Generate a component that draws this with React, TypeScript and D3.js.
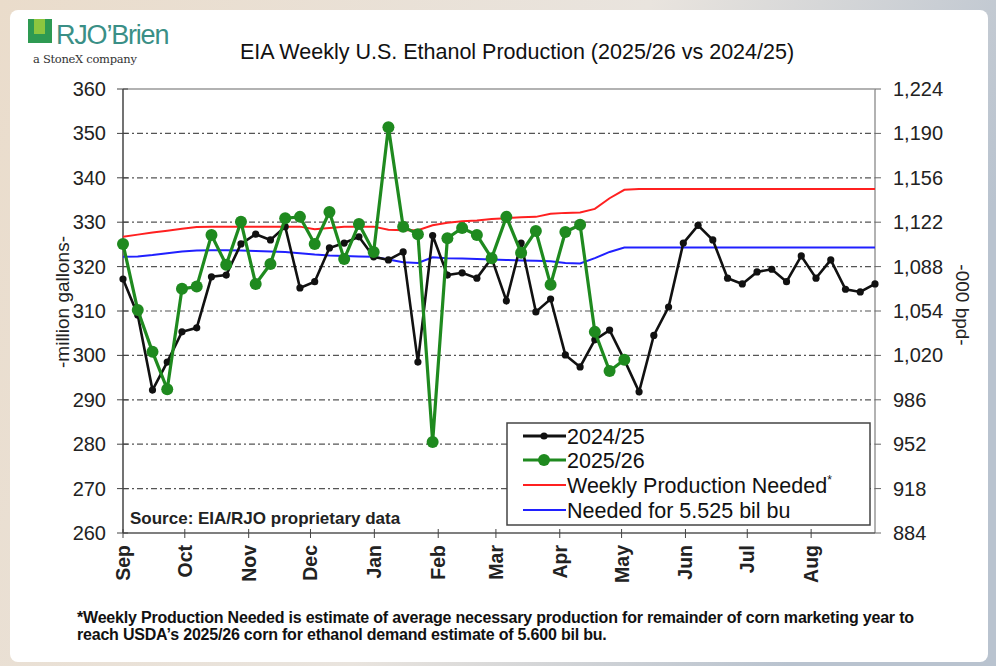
import * as d3 from "d3";

// weekly values, million gallons (Sep -> Aug)
const prior2425 = [
  317.2, 309.1, 292.2, 298.5, 305.3, 306.2, 317.7, 318.1, 325.1, 327.3, 326.0, 329.0,
  315.2, 316.6, 324.2, 325.3, 326.7, 322.2, 321.5, 323.3, 298.5, 327.0, 318.1, 318.6,
  317.4, 321.9, 312.3, 325.3, 309.8, 312.7, 300.1, 297.4, 303.5, 305.7, 299.0, 291.8,
  304.5, 310.9, 325.3, 329.3, 326.0, 317.4, 316.1, 318.8, 319.4, 316.6, 322.4, 317.4,
  321.5, 314.9, 314.3, 316.1,
];
const current2526 = [
  325.1, 310.2, 300.8, 292.4, 315.0, 315.5, 327.1, 320.4, 330.1, 316.1, 320.6, 330.9,
  331.2, 325.1, 332.3, 321.7, 329.6, 323.3, 351.4, 329.0, 327.3, 280.5, 326.4, 328.7,
  327.1, 321.9, 331.2, 323.1, 328.0, 315.9, 327.8, 329.4, 305.3, 296.5, 299.0,
];
const weeklyNeeded = [
  326.7, 327.2, 327.7, 328.1, 328.5, 328.9, 329.0, 329.0, 329.0, 329.0, 329.0, 329.0,
  329.0, 328.4, 328.7, 329.0, 329.0, 329.0, 328.3, 328.2, 328.2, 329.3, 329.9, 330.2,
  330.4, 330.7, 330.9, 331.1, 331.2, 331.9, 332.1, 332.2, 333.0, 335.4, 337.3, 337.5,
  337.5, 337.5, 337.5, 337.5, 337.5, 337.5, 337.5, 337.5, 337.5, 337.5, 337.5, 337.5,
  337.5, 337.5, 337.5, 337.5,
];
const needed5525 = [
  322.2, 322.3, 322.6, 323.0, 323.4, 323.6, 323.7, 323.7, 323.6, 323.5, 323.4, 323.3,
  323.0, 322.7, 322.5, 322.4, 322.3, 322.2, 321.6, 321.0, 320.8, 322.1, 321.9, 321.8,
  321.7, 321.6, 321.5, 321.4, 321.3, 321.2, 320.8, 320.7, 321.9, 323.3, 324.3, 324.3,
  324.3, 324.3, 324.3, 324.3, 324.3, 324.3, 324.3, 324.3, 324.3, 324.3, 324.3, 324.3,
  324.3, 324.3, 324.3, 324.3,
];

const leftTicks = [260, 270, 280, 290, 300, 310, 320, 330, 340, 350, 360];
const rightTicks = [884, 918, 952, 986, 1020, 1054, 1088, 1122, 1156, 1190, 1224];
const legendLabels = ["2024/25", "2025/26", "Weekly Production Needed", "Needed for 5.525 bil bu"];

const W = 996;
const H = 666;
const m = { left: 123, right: 875, top: 89, bottom: 533 };
const font = "'Liberation Sans', Arial, sans-serif";
const green = "#1f8a1f";

export default function App() {
  const weeks = d3.range(prior2425.length);
  const xWeek = d3.scalePoint<number>().domain(weeks).range([m.left, m.right]);
  const xTime = d3
    .scaleTime()
    .domain([new Date(2024, 8, 1), new Date(2025, 8, 1)])
    .range([m.left, m.right]);
  const y = d3.scaleLinear().domain([260, 360]).range([m.bottom, m.top]);
  const yR = d3.scaleLinear().domain([884, 1224]).range([m.bottom, m.top]);

  const lineGen = d3
    .line<number>()
    .x((_, i) => xWeek(i)!)
    .y((d) => y(d));

  const months = xTime.ticks(d3.timeMonth.every(1)!).slice(0, 12);
  const fmtMonth = d3.timeFormat("%b");
  const fmtR = d3.format(",");

  const lx = 507, ly = 423, lw = 363, lh = 102;
  const legendRows = [436, 460, 485, 510];

  return (
    <div style={{ position: "fixed", left: 0, top: 0 }}>
      <svg width={W} height={H} viewBox={`0 0 ${W} ${H}`} style={{ display: "block" }}>
        <defs>
          <linearGradient id="bg" x1="0" y1="0" x2="1" y2="0.3">
            <stop offset="0" stopColor="#eadccb" />
            <stop offset="0.6" stopColor="#e9e4de" />
            <stop offset="1" stopColor="#b9c3cf" />
          </linearGradient>
        </defs>
        <rect width={W} height={H} fill="url(#bg)" />
        <rect x={10} y={10} width={978} height={652} rx={8} fill="#fff" />

        {/* logo */}
        <rect x={28} y={19} width={24} height={24} fill="#2e9a52" />
        <rect x={34} y={19} width={11} height={15} fill="#8cc63f" />
        <text x={56} y={44} fontFamily={font} fontSize={27} fill="#3a8f86" letterSpacing={-1.2}>
          RJO’Brien
        </text>
        <text x={33} y={63} fontFamily="'DejaVu Serif', serif" fontSize={11.5} fill="#333" letterSpacing={-0.3}>
          a StoneX company
        </text>

        <text x={517} y={59} textAnchor="middle" fontFamily={font} fontSize={21.5} fill="#111">
          EIA Weekly U.S. Ethanol Production (2025/26 vs 2024/25)
        </text>

        {/* gridlines */}
        {leftTicks.slice(1, -1).map((t) => (
          <line key={t} x1={m.left} x2={m.right} y1={y(t)} y2={y(t)} stroke="#555"
            strokeWidth={1.2} strokeDasharray="6,3,2,3" />
        ))}
        {/* frame */}
        <line x1={m.left} x2={m.right} y1={m.top} y2={m.top} stroke="#999" strokeWidth={1.5} />
        <line x1={m.right} x2={m.right} y1={m.top} y2={m.bottom} stroke="#999" strokeWidth={1.5} />
        <line x1={m.left} x2={m.right} y1={m.bottom} y2={m.bottom} stroke="#555" strokeWidth={1.5} />
        <line x1={m.left} x2={m.left} y1={m.top} y2={m.bottom} stroke="#444" strokeWidth={1.5} />

        {/* left axis */}
        {leftTicks.map((t) => (
          <g key={t}>
            <line x1={m.left - 6} x2={m.left + 5} y1={y(t)} y2={y(t)} stroke="#444" />
            <text x={106} y={y(t) + 7} textAnchor="end" fontFamily={font} fontSize={20} fill="#222">
              {t}
            </text>
          </g>
        ))}
        {/* right axis */}
        {rightTicks.map((t) => (
          <g key={t}>
            <line x1={m.right} x2={m.right + 6} y1={yR(t)} y2={yR(t)} stroke="#666" />
            <text x={893} y={yR(t) + 7} fontFamily={font} fontSize={20} fill="#222">
              {fmtR(t)}
            </text>
          </g>
        ))}
        {/* month axis */}
        {months.map((d) => (
          <g key={+d}>
            <line x1={xTime(d)} x2={xTime(d)} y1={m.bottom - 4} y2={m.bottom + 5} stroke="#444" />
            <text transform={`translate(${xTime(d) + 7},${m.bottom + 12}) rotate(-90)`}
              textAnchor="end" fontFamily={font} fontSize={19.5} fontWeight="bold" fill="#222">
              {fmtMonth(d)}
            </text>
          </g>
        ))}
        <text transform="translate(69,302) rotate(-90)" textAnchor="middle"
          fontFamily={font} fontSize={19} fill="#222">
          -million  gallons-
        </text>
        <text transform="translate(956,305) rotate(90)" textAnchor="middle"
          fontFamily={font} fontSize={19} fill="#222">
          -000 bpd-
        </text>

        {/* series */}
        <path d={lineGen(weeklyNeeded)!} fill="none" stroke="#ff2020" strokeWidth={2} />
        <path d={lineGen(needed5525)!} fill="none" stroke="#2020ff" strokeWidth={2} />
        <path d={lineGen(prior2425)!} fill="none" stroke="#111" strokeWidth={2.6} />
        {prior2425.map((v, i) => (
          <circle key={i} cx={xWeek(i)} cy={y(v)} r={3.6} fill="#111" />
        ))}
        <path d={lineGen(current2526)!} fill="none" stroke={green} strokeWidth={3.2} />
        {current2526.map((v, i) => (
          <circle key={i} cx={xWeek(i)} cy={y(v)} r={6} fill={green} />
        ))}

        <text x={130} y={524} fontFamily={font} fontSize={17} fontWeight="bold" fill="#222">
          Source: EIA/RJO proprietary data
        </text>

        {/* legend */}
        <rect x={lx} y={ly} width={lw} height={lh} fill="#fff" stroke="#444" strokeWidth={1.5} />
        {legendLabels.map((lab, i) => {
          const cy = legendRows[i];
          const col = ["#111", green, "#ff2020", "#2020ff"][i];
          return (
            <g key={lab}>
              <line x1={523} x2={566} y1={cy} y2={cy} stroke={col} strokeWidth={i < 2 ? 3 : 2} />
              {i === 0 && <circle cx={544} cy={cy} r={3.6} fill={col} />}
              {i === 1 && <circle cx={544} cy={cy} r={6} fill={col} />}
              <text x={567} y={cy + 8} fontFamily={font} fontSize={21.5} fill="#111">
                {lab}
                {i === 2 && <tspan dy={-9} fontSize={12}>*</tspan>}
              </text>
            </g>
          );
        })}

        {/* footnote */}
        <text fontFamily="'Liberation Sans Narrow', 'Arial Narrow', sans-serif" fontWeight="bold"
          fontSize={16} fill="#111" letterSpacing={-0.2}>
          <tspan x={77} y={623}>
            *Weekly Production Needed is estimate of average necessary production for remainder of corn marketing year to
          </tspan>
          <tspan x={77} y={640}>
            reach USDA’s 2025/26 corn for ethanol demand estimate of 5.600 bil bu.
          </tspan>
        </text>
      </svg>
    </div>
  );
}
